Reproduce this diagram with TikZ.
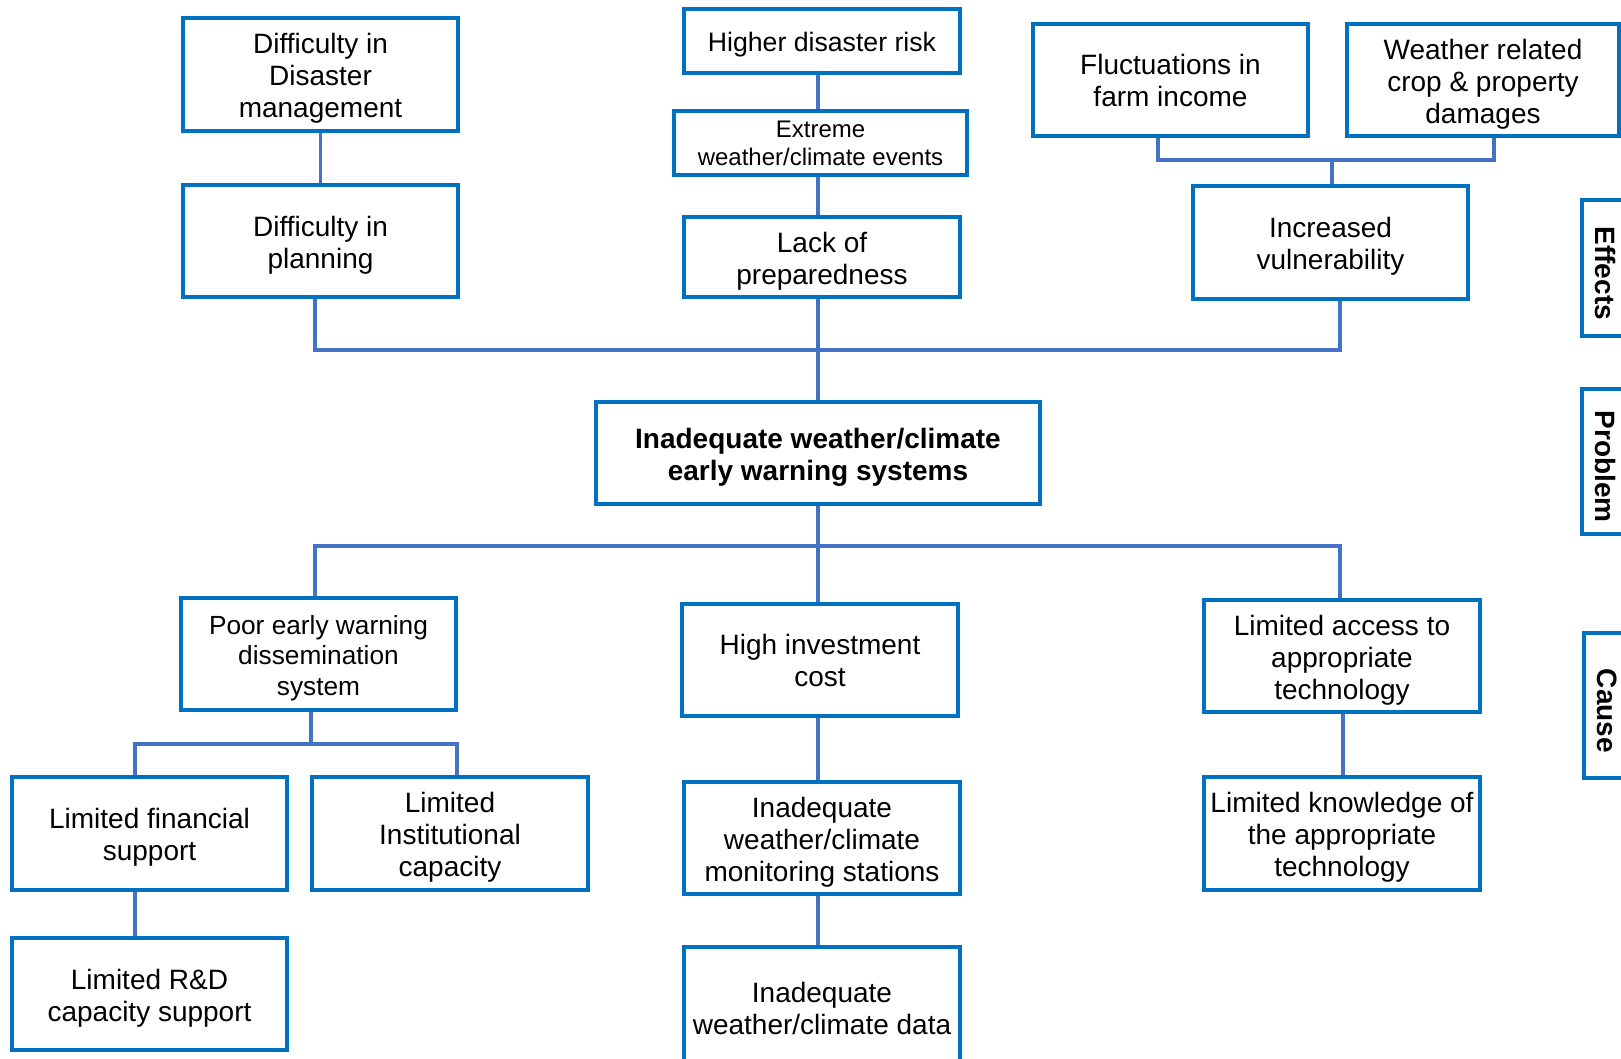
\documentclass[tikz,border=0pt]{standalone}
\usepackage{fontspec}
\setmainfont{Liberation Sans}
\definecolor{boxblue}{HTML}{0070C0}
\definecolor{linkblue}{HTML}{4472C4}
% \pbox{style}{name}{x1}{y1}{x2}{y2}{text}: a framed box given by its corners (px),
% with its text set slightly low so that the letters sit centred in the frame
\newcommand\pbox[7]{%
  \node[box,minimum width={(#5-#3)*0.75pt},minimum height={(#6-#4)*0.75pt}]
    (#2) at ({(#3+#5)/2},{(#4+#6)/2}) {};
  \node[boxtext,#1] (#2-t) at ([yshift=-3pt]#2.center) {#7};}
% \lbox{name}{x1}{y1}{x2}{y2}{text}: a level label written downwards in a frame
\newcommand\lbox[6]{%
  \node[box,minimum width={(#4-#2)*0.75pt},minimum height={(#5-#3)*0.75pt}]
    (#1) at ({(#2+#4)/2},{(#3+#5)/2}) {};
  \node[side] (#1-t) at ([xshift=1.5pt,yshift=-4pt]#1.center) {#6};}
\begin{document}
\begin{tikzpicture}[x=0.75pt,y=-0.75pt,
  box/.style={draw=boxblue,line width=2.7pt,fill=white,inner sep=0pt},
  boxtext/.style={inner sep=0pt,align=center,font=\fontsize{21}{24}\selectfont},
  raised/.style={yshift=2.5pt},
  small/.style={font=\fontsize{18}{21}\selectfont},
  mid/.style={font=\fontsize{20}{24}\selectfont},
  tight/.style={font=\fontsize{19.7}{23}\selectfont},
  strong/.style={font=\fontsize{21}{24}\selectfont\bfseries},
  side/.style={inner sep=0pt,rotate=-90,font=\fontsize{21}{24}\selectfont\bfseries},
  link/.style={draw=linkblue,line width=2.3pt}]
\useasboundingbox (0,0) rectangle (1621,1058);

% fixed positions of the connector buses and spines
\coordinate (spine) at (818,0);
\coordinate (effL) at (315,350);
\coordinate (effR) at (1340,350);
\coordinate (vbL) at (1158,160);
\coordinate (vbR) at (1494,160);
\coordinate (vbM) at (1332,160);
\coordinate (cbL) at (315,546);
\coordinate (cbR) at (1340,546);
\coordinate (pbL) at (135,744);
\coordinate (pbR) at (457,744);
\coordinate (pbM) at (311,744);
\coordinate (acc) at (1343,0);

% connectors (drawn first, boxes cover their ends)
\begin{scope}[link]
  \draw (320.5,131) -- (320.5,185);
  \draw (effL |- 0,297) -- (effL) -- (effR) -- (effR |- 0,299);
  \draw (spine |- 0,73) -- (spine |- 0,402);
  \draw (vbL |- 0,136) -- (vbL) -- (vbR) -- (vbR |- 0,136);
  \draw (vbM) -- (vbM |- 0,186);
  \draw (spine |- 0,504) -- (spine |- 0,604);
  \draw (cbL |- 0,598) -- (cbL) -- (cbR) -- (cbR |- 0,600);
  \draw (pbM |- 0,710) -- (pbM);
  \draw (pbL |- 0,777) -- (pbL) -- (pbR) -- (pbR |- 0,777);
  \draw (pbL |- 0,890) -- (pbL |- 0,938);
  \draw (spine |- 0,716) -- (spine |- 0,947);
  \draw (acc |- 0,712) -- (acc |- 0,777);
\end{scope}

% effects
\pbox{}{disaster}{183}{18}{458}{131}{Difficulty in\\Disaster\\management}
\pbox{}{planning}{183}{185}{458}{297}{Difficulty in\\planning}
\pbox{mid}{risk}{684}{9}{960}{73}{Higher disaster risk}
\pbox{small,raised}{extreme}{674}{111}{967}{175}{Extreme\\weather/climate events}
\pbox{}{prep}{684}{217}{960}{297}{Lack of\\preparedness}
\pbox{raised}{fluct}{1033}{24}{1308}{136}{Fluctuations in\\farm income}
\pbox{}{weather}{1347}{24}{1619}{136}{Weather related\\crop \& property\\damages}
\pbox{}{vuln}{1193}{186}{1468}{299}{Increased\\vulnerability}

% core problem
\pbox{strong}{core}{596}{402}{1040}{504}{Inadequate weather/climate\\early warning systems}

% causes
\pbox{tight}{poor}{181}{598}{456}{710}{Poor early warning\\dissemination\\system}
\pbox{raised}{invest}{682}{604}{958}{716}{High investment\\cost}
\pbox{}{access}{1204}{600}{1480}{712}{Limited access to\\appropriate\\technology}
\pbox{}{fin}{12}{777}{287}{890}{Limited financial\\support}
\pbox{}{inst}{312}{777}{588}{890}{Limited\\Institutional\\capacity}
\pbox{}{monitor}{684}{782}{960}{894}{Inadequate\\weather/climate\\monitoring stations}
\pbox{}{know}{1204}{777}{1480}{890}{Limited knowledge of\\the appropriate\\technology}
\pbox{}{rnd}{12}{938}{287}{1050}{Limited R\&D\\capacity support}
\pbox{}{data}{684}{947}{960}{1062}{Inadequate\\weather/climate data}

% level labels at the right edge (minimum width runs along the text, i.e. downwards)
\lbox{effects}{1582}{200}{1624}{336}{Effects}
\lbox{problem}{1582}{389}{1624}{534}{Problem}
\lbox{cause}{1584}{633}{1626}{778}{Cause}
\end{tikzpicture}
\end{document}
